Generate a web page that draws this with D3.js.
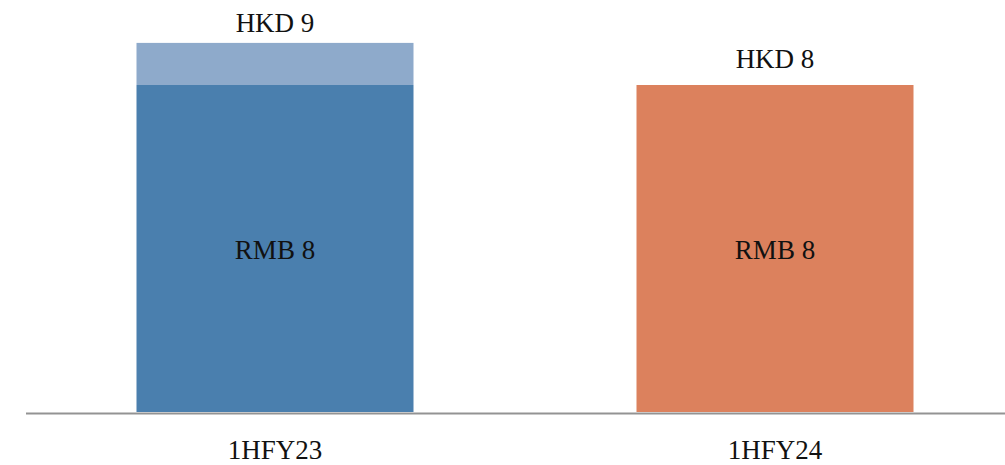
<!DOCTYPE html>
<html>
<head>
<meta charset="utf-8">
<script src="https://cdn.jsdelivr.net/npm/d3@7"></script>
<style>
  html, body { margin: 0; padding: 0; background: #ffffff; }
  svg { display: block; }
  text { font-family: "Liberation Serif", "DejaVu Serif", serif; font-size: 27px; fill: #111; }
</style>
</head>
<body>
<svg id="chart" width="1005" height="465"></svg>
<script>
const categories = ["1HFY23", "1HFY24"];
const rmbValues = [8, 8];
const hkdValues = [9.03, 8];
const rmbLabels = ["RMB 8", "RMB 8"];
const hkdLabels = ["HKD 9", "HKD 8"];
const barColors = ["#4a7fae", "#dc815d"];
const hkdExtraColor = "#8eaacb";

const svg = d3.select("#chart");
const x = d3.scaleBand().domain(categories).range([25, 1025]).paddingInner(0.446).paddingOuter(0.223);
const y = d3.scaleLinear().domain([0, 8]).range([412, 85]);

const data = categories.map((c, i) => ({ c, rmb: rmbValues[i], hkd: hkdValues[i], rl: rmbLabels[i], hl: hkdLabels[i], color: barColors[i] }));

// HKD excess segment (only where it exceeds RMB)
svg.selectAll("rect.hkd").data(data.filter(d => d.hkd > d.rmb)).join("rect")
  .attr("class", "hkd")
  .attr("x", d => x(d.c)).attr("width", x.bandwidth())
  .attr("y", d => y(d.hkd)).attr("height", d => y(d.rmb) - y(d.hkd))
  .attr("fill", hkdExtraColor);

svg.selectAll("rect.rmb").data(data).join("rect")
  .attr("class", "rmb")
  .attr("x", d => x(d.c)).attr("width", x.bandwidth())
  .attr("y", d => y(d.rmb)).attr("height", d => y(0) - y(d.rmb))
  .attr("fill", d => d.color);

// baseline
svg.append("line").attr("x1", 26).attr("x2", 1005).attr("y1", y(0) + 1.5).attr("y2", y(0) + 1.5)
  .attr("stroke", "#939393").attr("stroke-width", 2);

// RMB labels in middle
svg.selectAll("text.rl").data(data).join("text")
  .attr("class", "rl").attr("text-anchor", "middle")
  .attr("x", d => x(d.c) + x.bandwidth() / 2)
  .attr("y", d => (y(d.rmb) + y(0)) / 2 + 10)
  .text(d => d.rl);

// HKD labels above
svg.selectAll("text.hl").data(data).join("text")
  .attr("class", "hl").attr("text-anchor", "middle")
  .attr("x", d => x(d.c) + x.bandwidth() / 2)
  .attr("y", d => y(d.hkd) - (d.hkd > d.rmb ? 11 : 17))
  .text(d => d.hl);

// category labels
svg.selectAll("text.cat").data(categories).join("text")
  .attr("class", "cat").attr("text-anchor", "middle")
  .attr("x", d => x(d) + x.bandwidth() / 2)
  .attr("y", 459)
  .text(d => d);
</script>
</body>
</html>
